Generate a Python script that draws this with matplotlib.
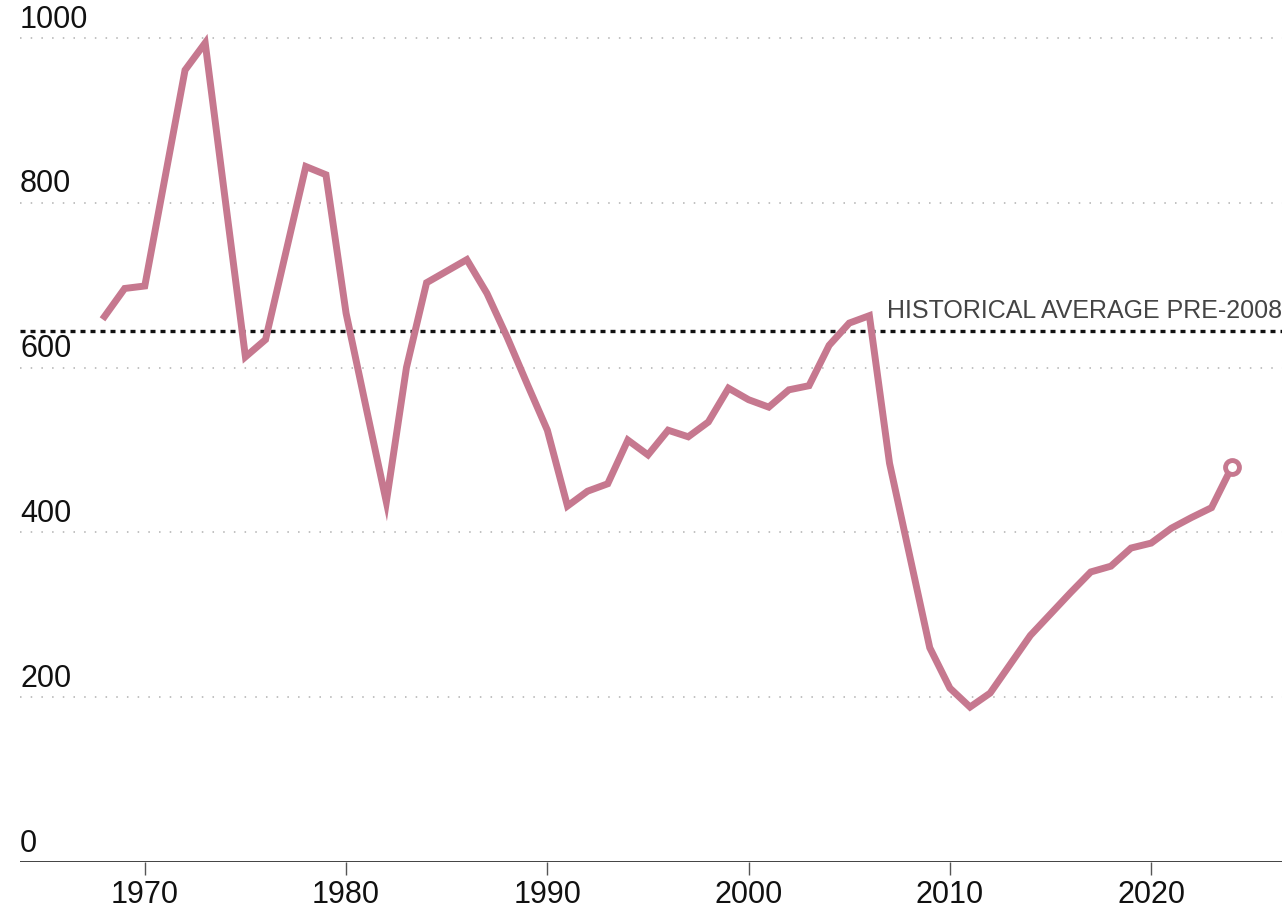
import matplotlib
matplotlib.use("Agg")
import matplotlib.pyplot as plt
from matplotlib.transforms import blended_transform_factory

years = list(range(1968, 2025))
values = [
    662, 696, 699, 830, 961, 994, 803, 613, 634, 739,   # 1968-1977
    844, 834, 666, 551, 437, 600, 703, 717, 731, 690,   # 1978-1987
    637, 580, 524, 432, 450, 459, 512, 494, 524, 516,   # 1988-1997
    534, 575, 561, 552, 573, 578, 627, 654, 663, 484,   # 1998-2007
    372, 260, 211, 188, 205, 240, 275, 301, 327, 352,   # 2008-2017
    359, 381, 387, 405, 418, 430, 479,                  # 2018-2024
]
historical_average = 644
avg_label = "HISTORICAL AVERAGE PRE-2008"
y_ticks = [0, 200, 400, 600, 800, 1000]
x_ticks = [1970, 1980, 1990, 2000, 2010, 2020]

LINE = "#c6788f"
FONT = ["Liberation Sans", "DejaVu Sans"]

fig = plt.figure(figsize=(12.87, 9.14), dpi=100)
ax = fig.add_axes([20 / 1287, 52 / 914, 1262 / 1287, 857 / 914])
ax.set_xlim(1963.8, 2026.5)
ax.set_ylim(0, 1040)

# dotted gridlines
for v in y_ticks[1:]:
    ax.axhline(v, color="#b0b0b0", lw=1.1, linestyle=(0, (1, 6)), zorder=1)
ax.axhline(0, color="#333333", lw=1.3, zorder=2)

# y labels sit above their gridline, left-aligned
trans = blended_transform_factory(ax.transAxes, ax.transData)
for v in y_ticks:
    ax.text(0, v + 4, str(v), transform=trans, ha="left", va="bottom",
            fontsize=22, color="#111111", family=FONT)

# historical average
ax.axhline(historical_average, color="#111111", lw=2.4, linestyle=(0, (1.5, 1.5)), zorder=3)
ax.text(1, historical_average + 10, avg_label, transform=trans, ha="right", va="bottom",
        fontsize=18, color="#444444", family=FONT)

ax.plot(years, values, color=LINE, lw=5, solid_joinstyle="miter", zorder=4)
ax.plot(years[-1], values[-1], marker="o", ms=10, mfc="white", mec=LINE, mew=3.5, zorder=5)

ax.set_yticks([])
ax.set_xticks(x_ticks)
ax.set_xticklabels([str(x) for x in x_ticks], family=FONT, fontsize=22, color="#111111")
ax.tick_params(axis="x", length=9, width=1, color="#555555", pad=4)
for s in ax.spines.values():
    s.set_visible(False)

fig.savefig("out.png", dpi=100)
